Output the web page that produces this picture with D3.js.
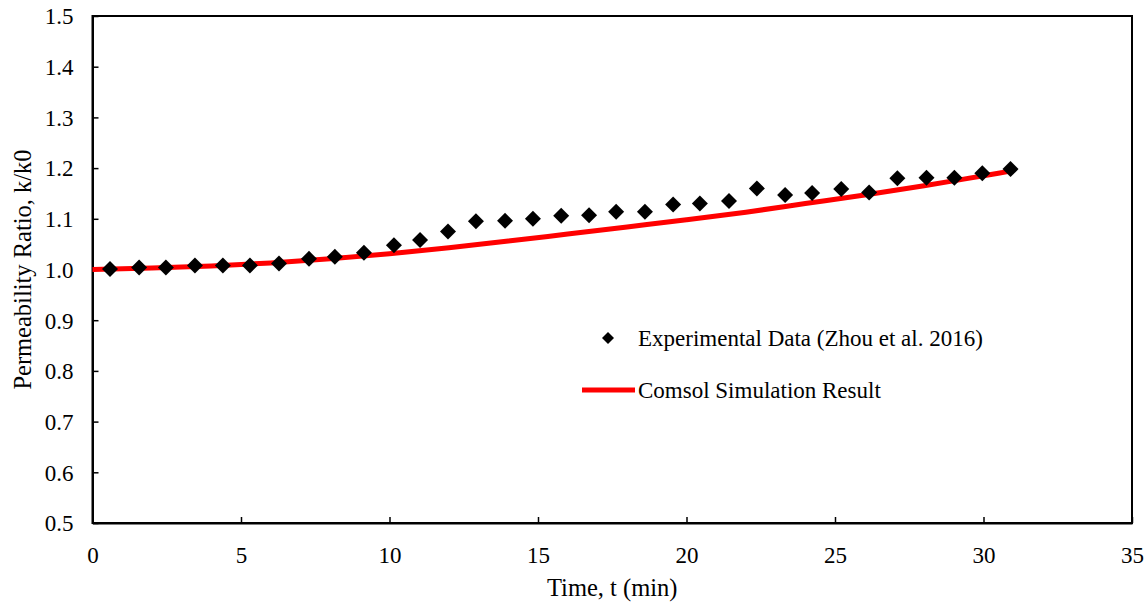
<!DOCTYPE html>
<html lang="en">
<head>
  <meta charset="UTF-8">
  <title>Permeability Ratio</title>
  <script src="https://d3js.org/d3.v7.min.js"></script>
  <style>
    body { margin: 0; background: #fff; }
    svg { display: block; font-family: "Liberation Serif", "Times New Roman", serif; }
  </style>
</head>
<body>
  <svg id="chart"></svg>
  <script>
    // experimental points (Zhou et al. 2016)
    const expTime = [0.59, 1.57, 2.47, 3.45, 4.39, 5.30, 6.28, 7.29, 8.16, 9.14, 10.15, 11.03,
      11.97, 12.91, 13.89, 14.83, 15.78, 16.72, 17.63, 18.60, 19.55, 20.45, 21.43, 22.37,
      23.32, 24.23, 25.21, 26.15, 27.10, 28.08, 29.02, 29.96, 30.91];
    const expRatio = [1.001, 1.004, 1.004, 1.008, 1.008, 1.008, 1.012, 1.021, 1.025, 1.033, 1.048, 1.058,
      1.075, 1.095, 1.096, 1.100, 1.106, 1.107, 1.114, 1.114, 1.128, 1.130, 1.135, 1.160,
      1.147, 1.151, 1.159, 1.152, 1.180, 1.181, 1.181, 1.190, 1.198];

    // simulation curve
    const simTime = [0, 2, 4, 6, 8, 10, 12, 14, 16, 18, 20, 22, 24, 26, 28, 30, 31];
    const simRatio = [1.000, 1.003, 1.007, 1.013, 1.021, 1.031, 1.043, 1.056, 1.070, 1.084, 1.098,
      1.113, 1.130, 1.147, 1.165, 1.185, 1.195];

    const xTicks = [0, 5, 10, 15, 20, 25, 30, 35];
    const yTicks = [0.5, 0.6, 0.7, 0.8, 0.9, 1.0, 1.1, 1.2, 1.3, 1.4, 1.5];

    const width = 1148, height = 603;
    const margin = { top: 16, right: 16, bottom: 80, left: 92.5 };

    const svg = d3.select('#chart')
      .attr('width', width)
      .attr('height', height);

    const x = d3.scaleLinear().domain([0, 35]).range([margin.left, width - margin.right]);
    const y = d3.scaleLinear().domain([0.5, 1.5]).range([height - margin.bottom, margin.top]);

    const tickSize = 23, legendSize = 23, titleSize = 24.5;

    // frame
    svg.append('rect')
      .attr('x', x(0))
      .attr('y', y(1.5))
      .attr('width', x(35) - x(0))
      .attr('height', y(0.5) - y(1.5))
      .attr('fill', 'none')
      .attr('stroke', '#000')
      .attr('stroke-width', 2);

    // axes with inward ticks
    const xAxis = svg.append('g')
      .attr('transform', `translate(0,${y(0.5)})`)
      .call(d3.axisBottom(x).tickValues(xTicks).tickSizeInner(-6).tickSizeOuter(0).tickPadding(20).tickFormat(d3.format('d')));
    const yAxis = svg.append('g')
      .attr('transform', `translate(${x(0)},0)`)
      .call(d3.axisLeft(y).tickValues(yTicks).tickSizeInner(-6).tickSizeOuter(0).tickPadding(19).tickFormat(d3.format('.1f')));

    [xAxis, yAxis].forEach(a => {
      a.select('.domain').attr('stroke', '#000').attr('stroke-width', 2);
      a.selectAll('.tick line').attr('stroke', '#000').attr('stroke-width', 1.5);
      a.selectAll('.tick text')
        .attr('fill', '#000')
        .style('font-family', '"Liberation Serif", serif')
        .style('font-size', tickSize + 'px');
    });
    yAxis.selectAll('.tick text').attr('dy', '0.34em');
    xAxis.selectAll('.tick text').attr('dy', '0.85em');

    // simulation line
    const line = d3.line()
      .x((d, i) => x(simTime[i]))
      .y(d => y(d))
      .curve(d3.curveMonotoneX);

    svg.append('path')
      .datum(simRatio)
      .attr('d', line)
      .attr('fill', 'none')
      .attr('stroke', '#ff0000')
      .attr('stroke-width', 5);

    // experimental diamonds
    const diamond = d3.symbol().type(d3.symbolSquare).size(128);
    svg.selectAll('path.pt')
      .data(expRatio)
      .enter()
      .append('path')
      .attr('class', 'pt')
      .attr('d', diamond)
      .attr('transform', (d, i) => `translate(${x(expTime[i])},${y(d)}) rotate(45)`)
      .attr('fill', '#000');

    // legend
    const legend = svg.append('g');
    legend.append('path')
      .attr('d', d3.symbol().type(d3.symbolSquare).size(72))
      .attr('transform', 'translate(608,338) rotate(45)')
      .attr('fill', '#000');
    legend.append('text')
      .attr('x', 638).attr('y', 346)
      .style('font-size', legendSize + 'px')
      .text('Experimental Data (Zhou et al. 2016)');
    legend.append('line')
      .attr('x1', 582).attr('x2', 635)
      .attr('y1', 390).attr('y2', 390)
      .attr('stroke', '#ff0000')
      .attr('stroke-width', 5);
    legend.append('text')
      .attr('x', 638).attr('y', 398)
      .style('font-size', legendSize + 'px')
      .text('Comsol Simulation Result');

    // axis titles
    svg.append('text')
      .attr('x', (x(0) + x(35)) / 2)
      .attr('y', 596)
      .attr('text-anchor', 'middle')
      .style('font-size', titleSize + 'px')
      .text('Time, t (min)');

    svg.append('text')
      .attr('transform', `translate(31,${(y(0.5) + y(1.5)) / 2}) rotate(-90)`)
      .attr('text-anchor', 'middle')
      .style('font-size', titleSize + 'px')
      .text('Permeability Ratio, k/k0');
  </script>
</body>
</html>
